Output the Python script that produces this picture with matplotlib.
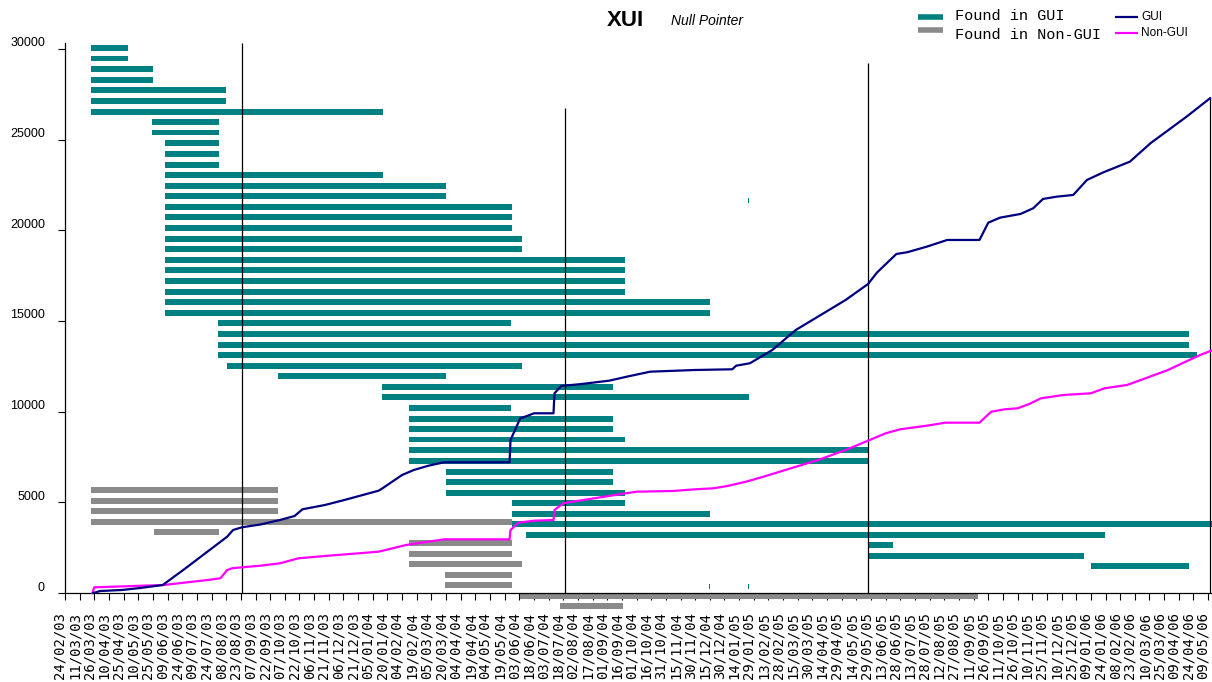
import numpy as np
import pandas as pd
import matplotlib
matplotlib.use("Agg")
import matplotlib.pyplot as plt
from matplotlib.lines import Line2D
from matplotlib.transforms import ScaledTranslation

# x values are days counted from the first axis date (24/02/03)
START_DATE = "2003-02-24"
END_DATE = "2006-05-09"

# null pointer bugs found in GUI code: first day, last day, row height
gui_bar_start = [27, 27, 27, 27, 27, 27, 27, 89, 89, 102, 102, 102, 102, 102, 102,
                 102, 102, 102, 102, 102, 102, 102, 102, 102, 102, 102, 157, 157,
                 157, 157, 166, 218, 324, 324, 352, 352, 352, 352, 352, 352, 390,
                 390, 390, 458, 458, 458, 472, 822, 822, 1050, 659, 699, 699]
gui_bar_end = [64, 64, 90, 90, 165, 165, 325, 158, 158, 158, 158, 158, 325, 390, 390,
               458, 458, 458, 468, 468, 573, 573, 573, 573, 660, 660, 457, 1150,
               1150, 1159, 468, 390, 561, 700, 457, 561, 561, 573, 822, 822, 561,
               561, 573, 573, 660, 1185, 1064, 847, 1043, 1150, 660, 700, 700]
gui_bar_y = [30070, 29470, 28880, 28290, 27720, 27130, 26540, 25960, 25390, 24800,
             24210, 23620, 23050, 22460, 21880, 21290, 20720, 20130, 19540, 18960,
             18370, 17800, 17210, 16620, 16030, 15440, 14870, 14280, 13690, 13130,
             12540, 11950, 11360, 10790, 10200, 9610, 9050, 8460, 7870, 7280, 6690,
             6120, 5530, 4950, 4370, 3790, 3200, 2630, 2040, 1470, 360, 360, 21640]

# same for bugs found in non-GUI code
nongui_bar_start = [27, 27, 27, 27, 91, 352, 352, 352, 389, 389, 466, 507]
nongui_bar_end = [218, 218, 218, 458, 158, 458, 458, 468, 458, 458, 935, 571]
nongui_bar_y = [5680, 5090, 4510, 3930, 3350, 2760, 2170, 1580, 990, 420, -150, -720]

# running totals
gui_days = [29, 36, 58, 77, 100, 121, 166, 172, 181, 200, 220, 235, 243, 266, 286,
            321, 325, 345, 357, 372, 388, 455, 456, 466, 473, 480, 500, 501, 508,
            529, 557, 575, 599, 645, 683, 687, 701, 724, 748, 799, 822, 831, 841,
            851, 862, 882, 903, 936, 945, 957, 978, 991, 1001, 1015, 1032, 1046,
            1063, 1090, 1111, 1148, 1172]
gui_values = [0, 110, 165, 276, 441, 1268, 3105, 3474, 3623, 3778, 4026, 4247, 4616,
              4853, 5129, 5642, 5774, 6508, 6783, 7020, 7208, 7208, 8438, 9635, 9762,
              9910, 9910, 11013, 11416, 11526, 11708, 11929, 12205, 12298, 12337,
              12536, 12668, 13401, 14504, 16159, 17041, 17665, 18183, 18696, 18790,
              19098, 19468, 19468, 20422, 20698, 20902, 21216, 21729, 21856, 21950,
              22777, 23202, 23787, 24801, 26268, 27283]

nongui_days = [28, 30, 101, 146, 159, 166, 171, 181, 200, 220, 239, 266, 321, 349,
               388, 455, 456, 464, 480, 500, 501, 510, 524, 548, 585, 622, 645, 664,
               678, 697, 715, 743, 771, 799, 822, 840, 855, 882, 901, 936, 948, 962,
               975, 987, 999, 1022, 1050, 1064, 1087, 1106, 1129, 1147, 1162, 1175]
nongui_values = [0, 314, 441, 717, 811, 1268, 1362, 1417, 1506, 1638, 1914, 2041,
                 2278, 2647, 2961, 2961, 3474, 3877, 3987, 4026, 4577, 4947, 5074,
                 5278, 5587, 5625, 5719, 5774, 5901, 6138, 6414, 6877, 7335, 7886,
                 8399, 8807, 9028, 9226, 9392, 9392, 9999, 10131, 10186, 10423, 10738,
                 10920, 11013, 11289, 11471, 11841, 12298, 12756, 13126, 13401]

# vertical marker lines
marker_days = [181, 512, 822, 1172]
marker_tops = [30350, 26750, 29230, 27280]

TEAL = "#008080"
GREY = "#8a8a8a"
NAVY = "#000080"
MAGENTA = "#ff00ff"

W, H = 1212, 682


def draw_bars(ax, starts, ends, ys, color):
    starts = np.array(starts)
    widths = np.array(ends) - starts
    ax.barh(ys, widths, left=starts, height=320, color=color, linewidth=0,
            clip_on=False, zorder=2)


def setup_axes(fig):
    ax = fig.add_axes([65 / W, 0.1039, 1147 / W, 0.8336])
    ax.set_xlim(0, 1174)
    ax.set_ylim(-1000, 30350)

    for side in ("top", "right"):
        ax.spines[side].set_visible(False)
    ax.spines["bottom"].set_position(("data", 0))
    ax.spines["left"].set_bounds(0, 30350)
    for side in ("bottom", "left"):
        ax.spines[side].set_linewidth(0.9)

    tick_dates = pd.date_range(START_DATE, END_DATE, freq="15D")
    tick_days = (tick_dates - tick_dates[0]).days
    ax.set_xticks(tick_days)
    ax.set_xticklabels([d.strftime("%d/%m/%y") for d in tick_dates], rotation=90,
                       family="DejaVu Sans Mono", fontsize=10)
    ax.tick_params(axis="x", direction="out", length=5, width=0.8, pad=8.5)

    ax.set_yticks(np.arange(0, 30001, 5000))
    ax.set_yticklabels([str(v) for v in range(0, 30001, 5000)],
                       family="Liberation Sans", fontsize=9)
    ax.tick_params(axis="y", direction="out", length=5, width=0.8, pad=9.4)

    # labels sit a little off their ticks in the original
    for lab in ax.get_xticklabels():
        lab.set_transform(lab.get_transform() + ScaledTranslation(-0.05, 0, fig.dpi_scale_trans))
    for lab in ax.get_yticklabels():
        lab.set_transform(lab.get_transform() + ScaledTranslation(0, 0.07, fig.dpi_scale_trans))
    return ax


def add_header(fig):
    fig.text(625 / W, 1 - 21 / H, "XUI", ha="center", va="center",
             family="Liberation Sans", weight="bold", fontsize=16)
    fig.text(671 / W, 1 - 21 / H, "Null Pointer", ha="left", va="center",
             family="Liberation Sans", style="italic", fontsize=10)

    # legend drawn by hand to keep the two column layout
    for y, color, label in [(17, TEAL, "Found in GUI"), (30, GREY, "Found in Non-GUI")]:
        fig.add_artist(Line2D([918 / W, 943 / W], [1 - y / H] * 2, color=color,
                              lw=4, solid_capstyle="butt"))
    fig.text(955 / W, 1 - 16 / H, "Found in GUI", va="center",
             family="Liberation Mono", fontsize=11)
    fig.text(955 / W, 1 - 35 / H, "Found in Non-GUI", va="center",
             family="Liberation Mono", fontsize=11)

    for y, color, label in [(17, NAVY, "GUI"), (33, MAGENTA, "Non-GUI")]:
        fig.add_artist(Line2D([1115 / W, 1138 / W], [1 - y / H] * 2, color=color,
                              lw=1.6, solid_capstyle="butt"))
        fig.text(1141 / W, 1 - y / H, label, va="center",
                 family="Liberation Sans", fontsize=8.5)


def main():
    fig = plt.figure(figsize=(W / 100, H / 100), dpi=100)
    ax = setup_axes(fig)

    draw_bars(ax, gui_bar_start, gui_bar_end, gui_bar_y, TEAL)
    draw_bars(ax, nongui_bar_start, nongui_bar_end, nongui_bar_y, GREY)

    ax.vlines(marker_days, 0, marker_tops, colors="black", lw=0.9, zorder=3)

    ax.plot(nongui_days, nongui_values, color=MAGENTA, lw=1.6, zorder=4)
    ax.plot(gui_days, gui_values, color=NAVY, lw=1.6, zorder=5)

    add_header(fig)
    fig.savefig("out.png", dpi=100)


if __name__ == "__main__":
    main()
